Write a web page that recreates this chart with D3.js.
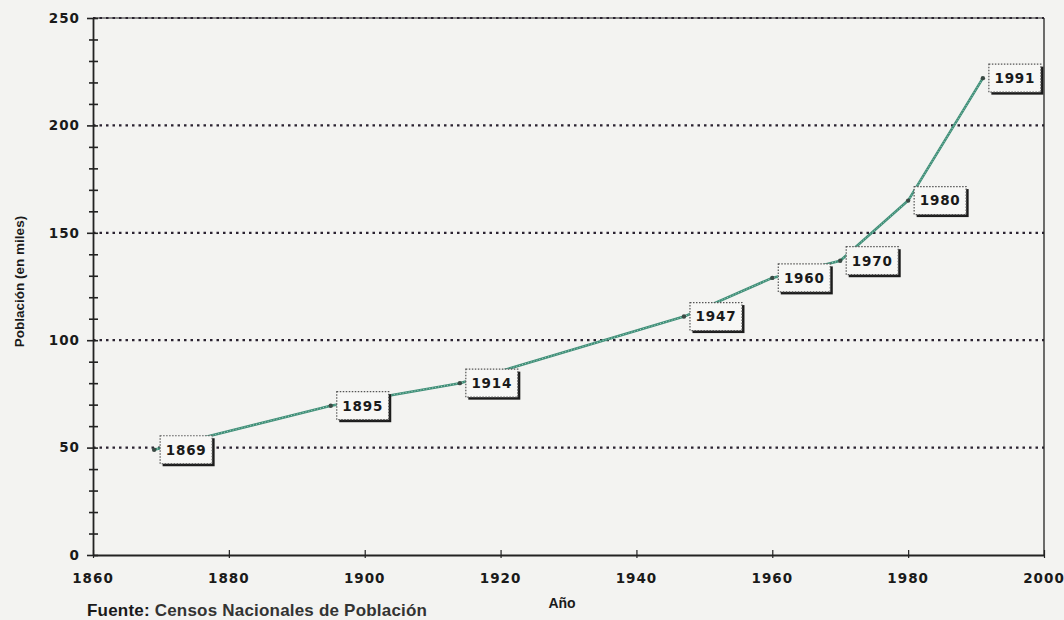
<!DOCTYPE html>
<html><head><meta charset="utf-8">
<script src="https://cdn.jsdelivr.net/npm/d3@7"></script>
<style>
html,body{margin:0;padding:0;background:#f3f3f1;}
svg{display:block;}
text{fill:#1a1a1a;}
</style></head><body>
<svg id="c" width="1064" height="620"></svg>
<script>
const years = [1869, 1895, 1914, 1947, 1960, 1970, 1980, 1991];
const population = [49, 69.5, 80, 111, 129, 137, 165, 222];
const xTicks = [1860, 1880, 1900, 1920, 1940, 1960, 1980, 2000];
const yTicks = [0, 50, 100, 150, 200, 250];
const yTitle = "Población (en miles)";
const xTitle = "Año";
const sourceBold = "Fuente:";
const sourceText = " Censos Nacionales de Población";

const svg = d3.select("#c");
const L = 93, R = 1044, T = 18, B = 555;
const x = d3.scaleLinear().domain([1860, 2000]).range([L, R]);
const y = d3.scaleLinear().domain([0, 250]).range([B, T]);
const ink = "#222";
const DV = "'DejaVu Sans', sans-serif";
const LS = "'Liberation Sans', Arial, sans-serif";

// dotted gridlines
svg.append("g").selectAll("line").data(yTicks.filter(d => d > 0 && d < 250)).join("line")
  .attr("x1", L).attr("x2", R).attr("y1", d => y(d)).attr("y2", d => y(d))
  .attr("stroke", "#2a2230").attr("stroke-width", 2.2).attr("stroke-dasharray", "2.5,4");
// top border (dotted + thin line)
svg.append("line").attr("x1", L).attr("x2", R).attr("y1", y(250)).attr("y2", y(250))
  .attr("stroke", ink).attr("stroke-width", 1.2);
svg.append("line").attr("x1", L).attr("x2", R).attr("y1", y(250)).attr("y2", y(250))
  .attr("stroke", "#2a2230").attr("stroke-width", 2.2).attr("stroke-dasharray", "2.5,4");
// right border
svg.append("line").attr("x1", R).attr("x2", R).attr("y1", T).attr("y2", B)
  .attr("stroke", ink).attr("stroke-width", 1.3);

// y axis
const yAxis = d3.axisLeft(y).tickValues(d3.range(0, 251, 10)).tickSize(0).tickFormat("");
const gy = svg.append("g").attr("transform", `translate(${L},0)`).call(yAxis);
gy.select(".domain").attr("stroke", ink).attr("stroke-width", 1.8);
gy.selectAll(".tick line").remove();
gy.selectAll(".tick").append("line").attr("x1", -4).attr("x2", 5).attr("stroke", ink).attr("stroke-width", 1.6);
gy.selectAll(".tick").filter(d => d % 50 === 0).select("line").attr("x1", -6);
svg.append("g").selectAll("text").data(yTicks).join("text")
  .attr("x", 80).attr("y", d => y(d)).attr("dy", "0.36em").attr("text-anchor", "end")
  .style("font-family", DV).style("font-size", "13.5px").style("font-weight", "bold").style("letter-spacing", "1px")
  .text(d => d);

// x axis
const xAxis = d3.axisBottom(x).tickValues(xTicks).tickSize(0).tickFormat("");
const gx = svg.append("g").attr("transform", `translate(0,${B})`).call(xAxis);
gx.select(".domain").attr("stroke", ink).attr("stroke-width", 1.8);
gx.selectAll(".tick line").remove();
gx.selectAll(".tick").append("line").attr("y1", -5).attr("y2", 3).attr("stroke", ink).attr("stroke-width", 1.2);
svg.append("g").selectAll("text").data(xTicks).join("text")
  .attr("x", d => x(d)).attr("y", 578).attr("dy", "0.36em").attr("text-anchor", "middle")
  .style("font-family", DV).style("font-size", "13.5px").style("font-weight", "bold").style("letter-spacing", "1px")
  .text(d => d);

// titles
svg.append("text").attr("transform", `translate(19,${(T + B) / 2 - 5}) rotate(-90)`)
  .attr("text-anchor", "middle").attr("dy", "0.36em")
  .style("font-family", LS).style("font-size", "13.5px").style("font-weight", "bold").text(yTitle);
svg.append("text").attr("x", 562).attr("y", 603).attr("dy", "0.36em").attr("text-anchor", "middle")
  .style("font-family", LS).style("font-size", "14px").style("font-weight", "bold").text(xTitle);
const src = svg.append("text").attr("x", 87).attr("y", 610).attr("dy", "0.36em")
  .style("font-family", LS).style("font-size", "17px").style("letter-spacing", "0.2px");
src.append("tspan").style("font-weight", "bold").text(sourceBold);
src.append("tspan").style("font-weight", "bold").attr("fill", "#333").text(sourceText);

// data line
const pts = years.map((yr, i) => ({yr, v: population[i]}));
const line = d3.line().x(d => x(d.yr)).y(d => y(d.v));
svg.append("path").datum(pts).attr("d", line).attr("fill", "none")
  .attr("stroke", "#3f8f78").attr("stroke-width", 2.6).attr("stroke-linejoin", "round");
svg.append("path").datum(pts).attr("d", line).attr("fill", "none")
  .attr("stroke", "#a9cfc2").attr("stroke-width", 1).attr("stroke-dasharray", "1,2");

// markers
svg.append("g").selectAll("circle").data(pts).join("circle")
  .attr("cx", d => x(d.yr)).attr("cy", d => y(d.v)).attr("r", 2.2).attr("fill", "#3a4a44");

// label boxes
const bw = 52, bh = 28;
const lab = svg.append("g").selectAll("g").data(pts).join("g")
  .attr("transform", d => `translate(${x(d.yr) + 6},${y(d.v) - bh / 2})`);
lab.append("rect").attr("x", 2.5).attr("y", 2.5).attr("width", bw).attr("height", bh).attr("fill", "#1c1c1c");
lab.append("rect").attr("width", bw).attr("height", bh).attr("fill", "#f7f7f5")
  .attr("stroke", "#555").attr("stroke-width", 1.2).attr("stroke-dasharray", "1.5,1.5");
lab.append("text").attr("x", bw / 2).attr("y", bh / 2).attr("dy", "0.36em").attr("text-anchor", "middle")
  .style("font-family", DV).style("font-size", "13.5px").style("font-weight", "bold").style("letter-spacing", "0.8px")
  .text(d => d.yr);
</script>
</body></html>
